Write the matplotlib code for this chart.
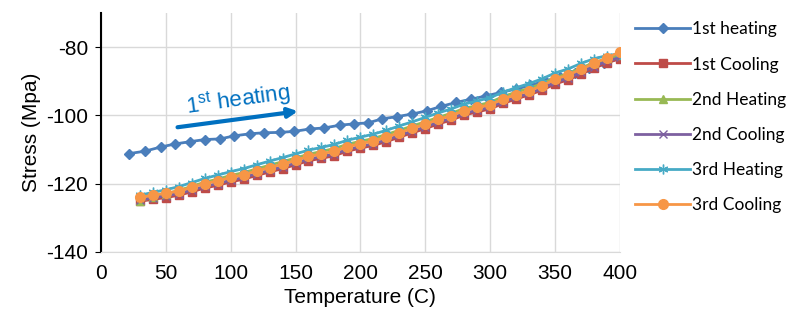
# Stress vs temperature for three heating / cooling cycles.
import matplotlib
matplotlib.use("Agg")
import matplotlib.pyplot as plt

# 1st heating (own temperature steps)
temp_h1 = [22, 34, 46, 57, 69, 80, 92, 103, 115, 126, 138, 149, 161, 172, 184, 195,
           206, 217, 228, 240, 251, 262, 274, 285, 297, 308, 320, 331, 342, 354,
           365, 376, 388, 400]
stress_h1 = [-111.2, -110.5, -109.3, -108.4, -107.7, -107.1, -106.9, -106.0, -105.4,
             -105.1, -105.0, -104.7, -104.0, -103.7, -102.9, -102.5, -102.2, -101.0,
             -100.4, -99.6, -98.7, -97.4, -96.2, -95.3, -94.3, -93.3, -92.3, -91.2,
             -90.0, -88.7, -87.5, -86.2, -84.8, -83.2]

# later runs share the same temperature steps
temp = [30, 40, 50, 60, 70, 80, 90, 100, 110, 120, 130, 140, 150, 160, 170, 180, 190,
        200, 210, 220, 230, 240, 250, 260, 270, 280, 290, 300, 310, 320, 330, 340,
        350, 360, 370, 380, 390, 400]
stress_c1 = [-125.2, -124.6, -124.1, -123.4, -122.4, -121.3, -120.5, -119.5, -118.7,
             -117.6, -116.6, -115.6, -114.5, -113.3, -112.6, -111.8, -110.5, -109.6,
             -108.8, -107.7, -106.4, -105.1, -103.9, -102.5, -101.4, -99.9, -99.0,
             -98.1, -96.5, -95.2, -94.0, -92.6, -90.8, -89.6, -87.9, -86.2, -84.6, -83.4]
stress_h2 = [-125.0, -124.0, -123.0, -122.0, -120.8, -119.6, -118.7, -117.6, -116.8,
             -115.7, -114.6, -113.6, -112.5, -111.4, -110.6, -109.7, -108.5, -107.6,
             -106.8, -105.6, -104.4, -103.1, -101.9, -100.6, -99.4, -98.0, -97.1,
             -96.2, -94.5, -93.2, -92.1, -90.7, -89.0, -87.8, -86.1, -84.6, -83.3, -82.4]
stress_c2 = [-124.8, -124.2, -123.6, -122.9, -121.9, -120.8, -120.0, -119.0, -118.2,
             -117.1, -116.1, -115.1, -114.0, -112.8, -112.1, -111.3, -110.0, -109.1,
             -108.3, -107.2, -105.9, -104.6, -103.4, -102.0, -100.9, -99.4, -98.5,
             -97.6, -96.0, -94.7, -93.6, -92.1, -90.3, -89.1, -87.4, -85.7, -84.2, -83.0]
stress_h3 = [-123.4, -122.6, -121.8, -120.9, -119.7, -118.5, -117.5, -116.5, -115.6,
             -114.5, -113.4, -112.4, -111.3, -110.2, -109.4, -108.5, -107.3, -106.4,
             -105.5, -104.4, -103.1, -101.9, -100.6, -99.3, -98.1, -96.7, -95.8,
             -94.8, -93.2, -91.9, -90.7, -89.3, -87.6, -86.4, -84.8, -83.4, -82.5, -82.0]
stress_c3 = [-124.0, -123.4, -122.8, -122.2, -121.1, -120.0, -119.2, -118.2, -117.4,
             -116.3, -115.3, -114.3, -113.2, -112.0, -111.3, -110.5, -109.2, -108.3,
             -107.5, -106.4, -105.1, -103.8, -102.6, -101.2, -100.1, -98.6, -97.7,
             -96.9, -95.2, -93.9, -92.8, -91.3, -89.4, -88.2, -86.5, -84.8, -83.2, -81.4]

x_ticks = [0, 50, 100, 150, 200, 250, 300, 350, 400]
y_ticks = [-140, -120, -100, -80]

plt.rcParams['font.family'] = ['Liberation Sans', 'DejaVu Sans']
plt.rcParams['axes.unicode_minus'] = False
plt.rcParams['mathtext.fontset'] = 'custom'
plt.rcParams['mathtext.rm'] = 'Liberation Sans'

fig = plt.figure(figsize=(8, 3.31), dpi=100)
ax = fig.add_axes([0.126, 0.239, 0.649, 0.722])

ax.plot(temp_h1, stress_h1, color='#4A7EBB', marker='D', markersize=5, lw=2, label='1st heating')
ax.plot(temp, stress_c1, color='#BE4B48', marker='s', markersize=6, lw=2, label='1st Cooling')
ax.plot(temp, stress_h2, color='#98B954', marker='^', markersize=6, lw=2, label='2nd Heating')
ax.plot(temp, stress_c2, color='#7D60A0', marker='x', markersize=6, lw=2, label='2nd Cooling')
ax.plot(temp, stress_h3, color='#46AAC5', marker=(6, 2, 0), markersize=7, lw=2, label='3rd Heating')
ax.plot(temp, stress_c3, color='#F79646', marker='o', markersize=7, lw=2, label='3rd Cooling')

ax.set_xlim(0, 400)
ax.set_ylim(-140, -70)
ax.set_xticks(x_ticks)
ax.set_yticks(y_ticks)
ax.tick_params(axis='x', length=0, labelsize=15, pad=9)
ax.tick_params(axis='y', length=4, labelsize=15, pad=5)
ax.grid(True, color='#d9d9d9', lw=1)
ax.set_axisbelow(True)
for s in ['top', 'right']:
    ax.spines[s].set_visible(False)
ax.spines['bottom'].set_color('#d9d9d9')
ax.spines['left'].set_linewidth(1.5)
ax.set_xlabel('Temperature (C)', fontsize=15, labelpad=3)
ax.set_ylabel('Stress (Mpa)', fontsize=15, labelpad=4)

# annotation arrow
ax.annotate('', xy=(154, -98.7), xytext=(57, -103.6),
            arrowprops=dict(arrowstyle='-|>', color='#0070C0', lw=3, mutation_scale=14))
ax.text(106, -95.3, '1$^{\\mathrm{st}}$ heating', color='#0070C0', fontsize=16, rotation=8,
        ha='center', va='center')

ax.legend(loc='upper left', bbox_to_anchor=(1.005, 1.015), frameon=False,
          prop={'family': 'Lato', 'size': 12.5}, handlelength=3.2, handletextpad=0.1,
          labelspacing=1.1, borderaxespad=0.3)

fig.savefig('out.png', dpi=100)
